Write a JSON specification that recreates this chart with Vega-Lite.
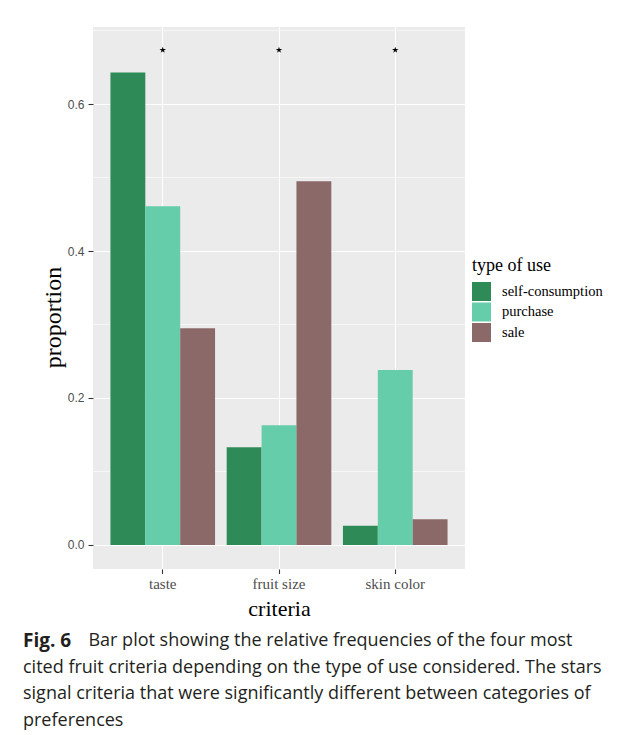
{
  "$schema": "https://vega.github.io/schema/vega-lite/v6.json",
  "width": 372,
  "height": 542,
  "padding": {"left": 23, "top": 27, "right": 5, "bottom": 5},
  "background": "white",
  "config": {"view": {"fill": "#EBEBEB", "stroke": null}},
  "datasets": {
    "bars": [
      {"criteria": "taste", "type": "self-consumption", "proportion": 0.643},
      {"criteria": "taste", "type": "purchase", "proportion": 0.461},
      {"criteria": "taste", "type": "sale", "proportion": 0.295},
      {"criteria": "fruit size", "type": "self-consumption", "proportion": 0.133},
      {"criteria": "fruit size", "type": "purchase", "proportion": 0.163},
      {"criteria": "fruit size", "type": "sale", "proportion": 0.495},
      {"criteria": "skin color", "type": "self-consumption", "proportion": 0.026},
      {"criteria": "skin color", "type": "purchase", "proportion": 0.238},
      {"criteria": "skin color", "type": "sale", "proportion": 0.035}
    ],
    "stars": [
      {"criteria": "taste", "proportion": 0.6735},
      {"criteria": "fruit size", "proportion": 0.6735},
      {"criteria": "skin color", "proportion": 0.6735}
    ],
    "minor": [
      {"proportion": 0.1},
      {"proportion": 0.3},
      {"proportion": 0.5},
      {"proportion": 0.7}
    ]
  },
  "title": {
    "text": "Fig. 6",
    "orient": "bottom",
    "anchor": "start",
    "frame": "group",
    "dx": -70,
    "offset": 12,
    "font": "Open Sans",
    "fontSize": 19,
    "fontWeight": "bold",
    "color": "#231F20",
    "subtitle": [
      "\u200b\u00a0\u00a0\u00a0\u00a0\u00a0\u00a0\u00a0\u00a0\u00a0\u00a0\u00a0\u00a0\u00a0\u00a0Bar plot showing the relative frequencies of the four most",
      "cited fruit criteria depending on the type of use considered. The stars",
      "signal criteria that were significantly different between categories of",
      "preferences"
    ],
    "subtitleFont": "Open Sans",
    "subtitleFontSize": 18,
    "subtitleFontWeight": "normal",
    "subtitleColor": "#231F20",
    "subtitleLineHeight": 26.5,
    "subtitlePadding": -18.5
  },
  "layer": [
    {
      "data": {"name": "minor"},
      "mark": {"type": "rule", "color": "white", "strokeWidth": 0.55},
      "encoding": {
        "y": {"field": "proportion", "type": "quantitative", "scale": {"domain": [-0.0327, 0.7048], "nice": false, "zero": false}}
      }
    },
    {
      "data": {"name": "bars"},
      "mark": {"type": "bar"},
      "encoding": {
        "x": {
          "field": "criteria",
          "type": "nominal",
          "sort": ["taste", "fruit size", "skin color"],
          "scale": {"paddingInner": 0.1, "paddingOuter": 0.15},
          "axis": {
            "title": "criteria",
            "labelAngle": 0,
            "domain": false,
            "grid": true,
            "gridColor": "white",
            "gridWidth": 1.1,
            "tickColor": "#333333",
            "tickSize": 4.5,
            "tickWidth": 1.1,
            "labelFont": "Liberation Serif",
            "labelFontSize": 15,
            "labelColor": "#4D4D4D",
            "labelPadding": 3,
            "titleFont": "Liberation Serif",
            "titleFontSize": 22,
            "titleFontWeight": "normal",
            "titleColor": "black",
            "titlePadding": 7
          }
        },
        "xOffset": {
          "field": "type",
          "type": "nominal",
          "sort": ["self-consumption", "purchase", "sale"],
          "scale": {"paddingInner": 0, "paddingOuter": 0}
        },
        "y": {
          "field": "proportion",
          "type": "quantitative",
          "scale": {"domain": [-0.0327, 0.7048], "nice": false, "zero": false},
          "axis": {
            "title": "proportion",
            "values": [0, 0.2, 0.4, 0.6],
            "format": ".1f",
            "domain": false,
            "grid": true,
            "gridColor": "white",
            "gridWidth": 1.1,
            "tickColor": "#333333",
            "tickSize": 5,
            "tickWidth": 1.1,
            "labelFont": "Liberation Sans",
            "labelFontSize": 12,
            "labelColor": "#4D4D4D",
            "labelPadding": 4,
            "titleFont": "Liberation Serif",
            "titleFontSize": 24,
            "titleFontWeight": "normal",
            "titleColor": "black",
            "titlePadding": 2,
            "titleY": 290
          }
        },
        "color": {
          "field": "type",
          "type": "nominal",
          "sort": ["self-consumption", "purchase", "sale"],
          "scale": {"domain": ["self-consumption", "purchase", "sale"], "range": ["#2E8B57", "#66CDAA", "#8B6969"]},
          "legend": {
            "title": "type of use",
            "orient": "none",
            "legendX": 379,
            "legendY": 230,
            "padding": 0,
            "titleFont": "Liberation Serif",
            "titleFontSize": 18,
            "titleFontWeight": "normal",
            "titleColor": "black",
            "titlePadding": 7,
            "labelFont": "Liberation Serif",
            "labelFontSize": 14.5,
            "labelColor": "black",
            "labelOffset": 11,
            "symbolType": "square",
            "symbolSize": 361,
            "symbolStrokeWidth": 0,
            "symbolOpacity": 1,
            "rowPadding": 1.5
          }
        }
      }
    },
    {
      "data": {"name": "stars"},
      "mark": {"type": "point", "shape": "M0,-1L0.225,-0.309L0.951,-0.309L0.363,0.118L0.588,0.809L0,0.382L-0.588,0.809L-0.363,0.118L-0.951,-0.309L-0.225,-0.309Z", "filled": true, "size": 45, "color": "black", "strokeWidth": 0, "opacity": 1},
      "encoding": {
        "x": {"field": "criteria", "type": "nominal", "sort": ["taste", "fruit size", "skin color"]},
        "y": {"field": "proportion", "type": "quantitative", "scale": {"domain": [-0.0327, 0.7048], "nice": false, "zero": false}}
      }
    }
  ]
}
